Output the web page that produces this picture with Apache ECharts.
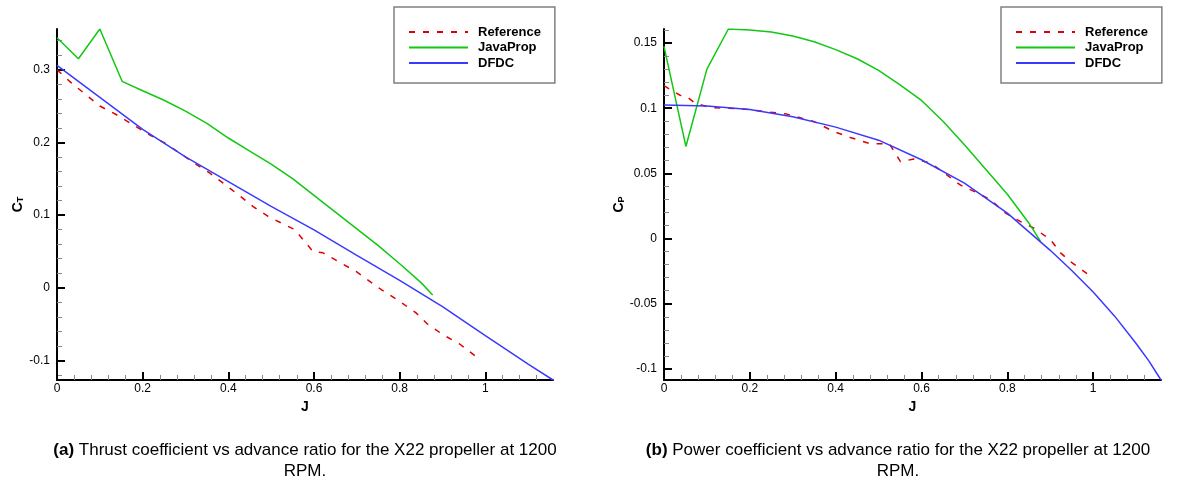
<!DOCTYPE html>
<html>
<head>
<meta charset="utf-8">
<script src="https://cdn.jsdelivr.net/npm/echarts@6/dist/echarts.min.js"></script>
<style>
html,body{margin:0;padding:0;background:#fff;}
#chart{width:1181px;height:482px;}
</style>
</head>
<body>
<div id="chart"></div>
<script>
// ---------- data ----------
// (a) Thrust coefficient
const ctRefJ  = [0, 0.034, 0.073, 0.10, 0.139, 0.178, 0.217, 0.252, 0.287, 0.322, 0.357, 0.388, 0.423, 0.458, 0.493, 0.528, 0.555, 0.598, 0.621, 0.664, 0.699, 0.758, 0.796, 0.839, 0.863, 0.902, 0.940, 0.979];
const ctRefV  = [0.300, 0.2815, 0.263, 0.250, 0.238, 0.224, 0.210, 0.199, 0.185, 0.171, 0.1576, 0.144, 0.128, 0.1116, 0.098, 0.0877, 0.080, 0.0496, 0.048, 0.0336, 0.022, -0.003, -0.017, -0.035, -0.049, -0.065, -0.0775, -0.095];
const ctJavaJ = [0, 0.05, 0.10, 0.152, 0.20, 0.25, 0.30, 0.35, 0.40, 0.45, 0.50, 0.55, 0.60, 0.65, 0.70, 0.75, 0.80, 0.85, 0.877];
const ctJavaV = [0.344, 0.315, 0.356, 0.284, 0.271, 0.258, 0.243, 0.226, 0.206, 0.188, 0.170, 0.150, 0.127, 0.104, 0.081, 0.058, 0.033, 0.007, -0.010];
const ctDfdcJ = [0, 0.10, 0.20, 0.30, 0.40, 0.50, 0.60, 0.70, 0.80, 0.90, 1.00, 1.10, 1.158];
const ctDfdcV = [0.306, 0.262, 0.218, 0.180, 0.146, 0.112, 0.0795, 0.0445, 0.010, -0.026, -0.066, -0.105, -0.127];

// (b) Power coefficient
const cpRefJ  = [0, 0.037, 0.053, 0.072, 0.107, 0.185, 0.286, 0.349, 0.395, 0.434, 0.481, 0.525, 0.551, 0.582, 0.621, 0.648, 0.691, 0.730, 0.761, 0.796, 0.831, 0.862, 0.901, 0.924, 0.947, 0.986];
const cpRefV  = [0.1173, 0.110, 0.109, 0.104, 0.1006, 0.0994, 0.0955, 0.0899, 0.0822, 0.0776, 0.0727, 0.0728, 0.059, 0.061, 0.058, 0.0515, 0.041, 0.035, 0.0297, 0.0195, 0.013, 0.008, -0.001, -0.011, -0.0177, -0.027];
const cpJavaJ = [0, 0.051, 0.10, 0.150, 0.20, 0.25, 0.30, 0.35, 0.40, 0.45, 0.50, 0.55, 0.60, 0.65, 0.70, 0.75, 0.80, 0.85, 0.877];
const cpJavaV = [0.1475, 0.0707, 0.130, 0.1608, 0.1600, 0.1585, 0.1555, 0.151, 0.145, 0.138, 0.129, 0.118, 0.106, 0.090, 0.072, 0.053, 0.034, 0.012, -0.002];
const cpDfdcJ = [0, 0.10, 0.20, 0.30, 0.40, 0.50, 0.60, 0.70, 0.80, 0.90, 0.95, 1.00, 1.05, 1.10, 1.13, 1.158];
const cpDfdcV = [0.1025, 0.1018, 0.0990, 0.0935, 0.0855, 0.0755, 0.0605, 0.0425, 0.0195, -0.009, -0.0245, -0.041, -0.0595, -0.0805, -0.094, -0.1085];

// ---------- ticks ----------
const jMajor  = [0, 0.2, 0.4, 0.6, 0.8, 1];
const jMinor  = [0.04, 0.08, 0.12, 0.16, 0.24, 0.28, 0.32, 0.36, 0.44, 0.48, 0.52, 0.56, 0.64, 0.68, 0.72, 0.76, 0.84, 0.88, 0.92, 0.96, 1.04, 1.08, 1.12];
const ctMajor = [-0.1, 0, 0.1, 0.2, 0.3];
const ctMinor = [-0.12, -0.08, -0.06, -0.04, -0.02, 0.02, 0.04, 0.06, 0.08, 0.12, 0.14, 0.16, 0.18, 0.22, 0.24, 0.26, 0.28, 0.32, 0.34];
const cpMajor = [-0.1, -0.05, 0, 0.05, 0.1, 0.15];
const cpMinor = [-0.09, -0.08, -0.07, -0.06, -0.04, -0.03, -0.02, -0.01, 0.01, 0.02, 0.03, 0.04, 0.06, 0.07, 0.08, 0.09, 0.11, 0.12, 0.13, 0.14, 0.16];

const seriesNames = ['Reference', 'JavaProp', 'DFDC'];
const captionA = '{b|(a)} Thrust coefficient vs advance ratio for the X22 propeller at 1200\nRPM.';
const captionB = '{b|(b)} Power coefficient vs advance ratio for the X22 propeller at 1200\nRPM.';

// ---------- chart ----------
const FONT = '"Liberation Sans", Arial, sans-serif';
const zip = (a, b) => a.map((x, i) => [x, b[i]]);
const colors = { Reference: '#e00000', JavaProp: '#12c812', DFDC: '#3a3aff' };

function majorX(grid, max) {
  return {
    type: 'value', gridIndex: grid, position: 'bottom', min: 0, max: max,
    name: 'J', nameLocation: 'middle', nameGap: 14,
    nameTextStyle: { fontFamily: FONT, fontSize: 14, fontWeight: 'bold', color: '#000' },
    axisLine: { show: true, onZero: false, lineStyle: { color: '#000', width: 2 } },
    axisTick: { show: true, inside: true, length: 8, customValues: jMajor, lineStyle: { color: '#000', width: 2 } },
    axisLabel: { customValues: jMajor, margin: 3, fontFamily: FONT, fontSize: 12, color: '#000' },
    splitLine: { show: false }
  };
}
function minorX(grid, max) {
  return {
    type: 'value', gridIndex: grid, position: 'bottom', min: 0, max: max,
    axisLine: { show: false, onZero: false },
    axisTick: { show: true, inside: true, length: 5, customValues: jMinor, lineStyle: { color: '#888', width: 1 } },
    axisLabel: { show: false }, splitLine: { show: false }
  };
}
function majorY(grid, min, max, ticks, sub) {
  return {
    type: 'value', gridIndex: grid, position: 'left', min: min, max: max,
    name: '{c|C}{s|' + sub + '}', nameLocation: 'middle', nameGap: 29, nameRotate: 90,
    nameTextStyle: {
      fontFamily: FONT, color: '#000',
      rich: {
        c: { fontFamily: FONT, fontSize: 14, fontWeight: 'bold', color: '#000', verticalAlign: 'top', lineHeight: 14 },
        s: { fontFamily: FONT, fontSize: 9, fontWeight: 'bold', color: '#000', verticalAlign: 'bottom', lineHeight: 9, padding: [8, 0, 0, 0] }
      }
    },
    axisLine: { show: true, onZero: false, lineStyle: { color: '#000', width: 2 } },
    axisTick: { show: true, inside: true, length: 8, customValues: ticks, lineStyle: { color: '#000', width: 2 } },
    axisLabel: { customValues: ticks, margin: 7, fontFamily: FONT, fontSize: 12, color: '#000' },
    splitLine: { show: false }
  };
}
function minorY(grid, min, max, ticks) {
  return {
    type: 'value', gridIndex: grid, position: 'left', min: min, max: max,
    axisLine: { show: false, onZero: false },
    axisTick: { show: true, inside: true, length: 5, customValues: ticks, lineStyle: { color: '#888', width: 1 } },
    axisLabel: { show: false }, splitLine: { show: false }
  };
}
function line(name, xi, yi, data) {
  return {
    name: name, type: 'line', xAxisIndex: xi, yAxisIndex: yi, data: data,
    symbol: 'none', showSymbol: false, smooth: false, clip: true,
    lineStyle: { color: colors[name], width: 1.5, type: name === 'Reference' ? [6, 8] : 'solid' },
    itemStyle: { color: colors[name] }
  };
}
function legend(left) {
  return {
    data: seriesNames, orient: 'vertical', left: left, top: 7,
    padding: [18.5, 14, 13.5, 14], itemWidth: 59, itemHeight: 13, itemGap: 2.5,
    backgroundColor: '#fff', borderColor: '#808080', borderWidth: 1.5, borderRadius: 0,
    itemStyle: { opacity: 0, borderWidth: 0 },
    textStyle: { fontFamily: FONT, fontSize: 13, fontWeight: 'bold', color: '#000', padding: [0, 0, 0, 5] },
    selectedMode: false
  };
}
function caption(x, text) {
  return {
    type: 'text', x: x, y: 439.5,
    style: {
      text: text, align: 'center', verticalAlign: 'top', fontFamily: FONT, fontSize: 17, lineHeight: 21, fill: '#000',
      rich: { b: { fontFamily: FONT, fontSize: 17, fontWeight: 'bold', fill: '#000', lineHeight: 21 } }
    }
  };
}

const chart = echarts.init(document.getElementById('chart'), null, { renderer: 'canvas' });
chart.setOption({
  animation: false,
  backgroundColor: '#fff',
  grid: [
    { left: 57, top: 29, width: 496, height: 351, containLabel: false },
    { left: 664, top: 29, width: 497, height: 351, containLabel: false }
  ],
  xAxis: [majorX(0, 1.158), minorX(0, 1.158), majorX(1, 1.158), minorX(1, 1.158)],
  yAxis: [
    majorY(0, -0.127, 0.356, ctMajor, 'T'), minorY(0, -0.127, 0.356, ctMinor),
    majorY(1, -0.1085, 0.1608, cpMajor, 'P'), minorY(1, -0.1085, 0.1608, cpMinor)
  ],
  legend: [legend(394), legend(1001)],
  series: [
    line('Reference', 0, 0, zip(ctRefJ, ctRefV)),
    line('JavaProp', 0, 0, zip(ctJavaJ, ctJavaV)),
    line('DFDC', 0, 0, zip(ctDfdcJ, ctDfdcV)),
    line('Reference', 2, 2, zip(cpRefJ, cpRefV)),
    line('JavaProp', 2, 2, zip(cpJavaJ, cpJavaV)),
    line('DFDC', 2, 2, zip(cpDfdcJ, cpDfdcV))
  ],
  graphic: [caption(305, captionA), caption(898, captionB)]
});
</script>
</body>
</html>
